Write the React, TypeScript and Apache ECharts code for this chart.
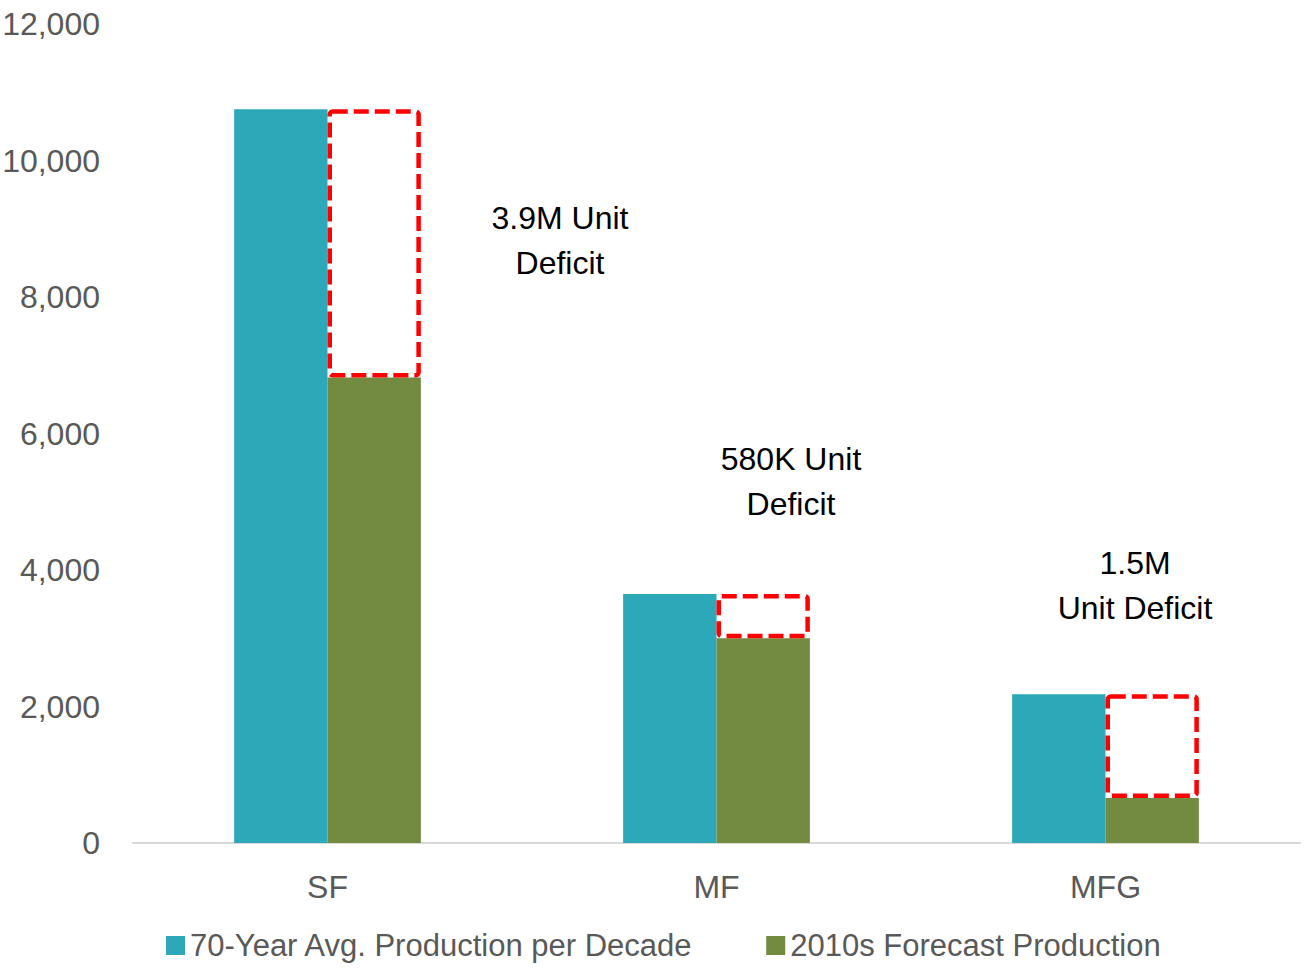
import React, { useEffect, useRef } from "react";
import * as echarts from "echarts";

const categories = ["SF", "MF", "MFG"];
const avgProduction = [10750, 3650, 2180];
const forecastProduction = [6820, 3000, 660];
const deficit = avgProduction.map((v, i) => v - forecastProduction[i]);
const seriesNames = ["70-Year Avg. Production per Decade", "2010s Forecast Production"];
const annotations = [
  { text: "3.9M Unit\nDeficit", x: 560, y: 240 },
  { text: "580K Unit\nDeficit", x: 791, y: 481 },
  { text: "1.5M\nUnit Deficit", x: 1135, y: 585 },
];

const FONT = "'Liberation Sans Narrow', 'Arial Narrow', 'Liberation Sans', Arial, sans-serif";

export default function App() {
  const ref = useRef<HTMLDivElement>(null);
  useEffect(() => {
    if (!ref.current) return;
    const chart = echarts.init(ref.current, undefined, { renderer: "svg" });
    chart.setOption({
      animation: false,
      textStyle: { fontFamily: FONT },
      grid: { left: 133, right: 7, top: 24, bottom: 128, containLabel: false, outerBoundsMode: "none" },
      legend: {
        left: 161,
        top: 925,
        itemWidth: 19,
        itemHeight: 19,
        itemGap: 73,
        icon: "rect",
        data: seriesNames,
        textStyle: { fontFamily: FONT, fontSize: 31, color: "#595959" },
      },
      xAxis: {
        type: "category",
        data: categories,
        axisLine: { lineStyle: { color: "#D9D9D9", width: 2 } },
        axisTick: { show: false },
        axisLabel: { fontFamily: FONT, fontSize: 32, color: "#595959", margin: 28 },
      },
      yAxis: {
        type: "value",
        min: 0,
        max: 12000,
        interval: 2000,
        splitLine: { show: false },
        axisLine: { show: false },
        axisTick: { show: false },
        axisLabel: {
          fontFamily: FONT,
          fontSize: 32,
          color: "#595959",
          margin: 33,
          formatter: (v: number) => v.toLocaleString("en-US"),
        },
      },
      series: [
        {
          name: seriesNames[0],
          type: "bar",
          stack: "avg",
          data: avgProduction,
          barGap: "0%",
          barCategoryGap: "52%",
          itemStyle: { color: "#2CA8B8" },
        },
        {
          name: seriesNames[1],
          type: "bar",
          stack: "fc",
          data: forecastProduction,
          itemStyle: { color: "#728B40" },
        },
        {
          name: "Deficit",
          type: "bar",
          stack: "fc",
          data: deficit,
          itemStyle: {
            color: "rgba(0,0,0,0)",
            borderColor: "#FF0000",
            borderWidth: 4.5,
            borderType: [15, 6],
            borderRadius: 3,
          },
        },
      ],
      graphic: annotations.map((a) => ({
        type: "text",
        x: a.x,
        y: a.y,
        style: {
          text: a.text,
          fontFamily: FONT,
          fontSize: 32,
          lineHeight: 45,
          fill: "#000000",
          align: "center",
          verticalAlign: "middle",
        },
      })),
    });
    return () => chart.dispose();
  }, []);
  return <div ref={ref} style={{ width: 1307, height: 971, position: "absolute", left: 0, top: 0 }} />;
}
